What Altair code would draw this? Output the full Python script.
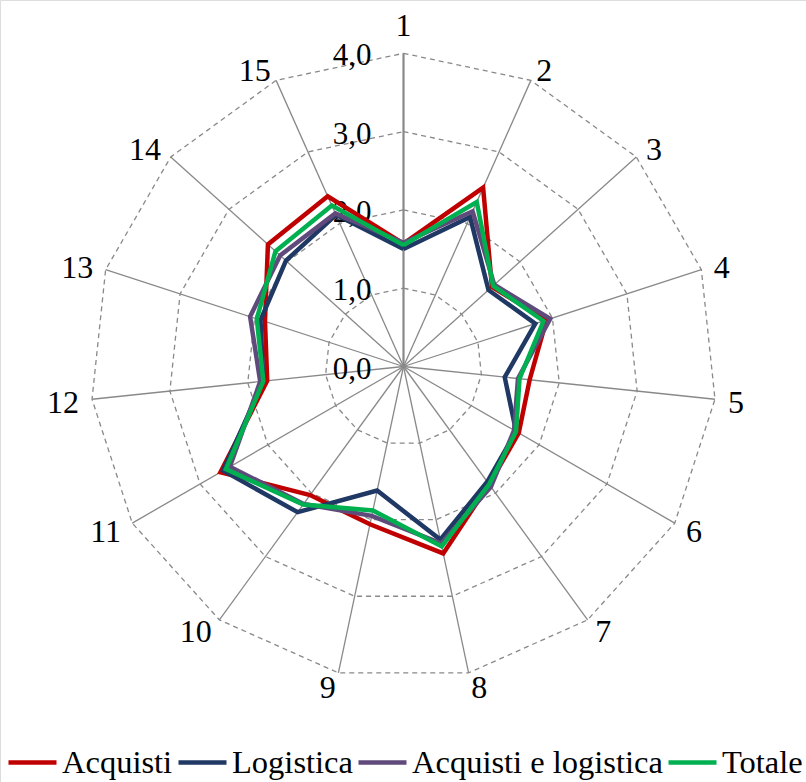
import altair as alt
import pandas as pd

# Radar chart: 15 items, four groups, scale 0-4
categories = [str(i) for i in range(1, 16)]
series_names = ["Acquisti", "Logistica", "Acquisti e logistica", "Totale"]
series_colors = ["#C00000", "#1F3864", "#604A7B", "#00B050"]

acquisti = [1.57, 2.50, 1.52, 1.92, 1.62, 1.70, 1.86, 2.44, 2.06, 2.03, 2.70, 1.75, 1.86, 2.33, 2.38]
logistica = [1.50, 2.09, 1.46, 1.77, 1.30, 1.66, 1.82, 2.26, 1.62, 2.30, 2.66, 1.80, 1.92, 2.02, 2.12]
acquisti_logistica = [1.58, 2.17, 1.56, 1.97, 1.47, 1.63, 1.90, 2.31, 1.95, 2.17, 2.56, 1.84, 2.06, 2.12, 2.14]
totale = [1.55, 2.30, 1.54, 1.88, 1.49, 1.66, 1.86, 2.35, 1.88, 2.18, 2.62, 1.80, 1.97, 2.20, 2.25]

grid_levels = [1, 2, 3, 4]
tick_values = [0, 1, 2, 3, 4]
tick_labels = ["0,0", "1,0", "2,0", "3,0", "4,0"]
r_max = 4

n = len(categories)
FONT = "Liberation Serif"
GRAY = "#898989"

# long table for the series, each polygon closed on its first item
rows = []
for name, vals in zip(series_names, [acquisti, logistica, acquisti_logistica, totale]):
    for i, v in enumerate(vals + vals[:1]):
        rows.append({"serie": name, "pos": i, "valore": v})
df_series = pd.DataFrame(rows)

df_grid = pd.DataFrame(
    [{"livello": lv, "pos": i} for lv in grid_levels for i in range(n + 1)]
)
df_cat = pd.DataFrame({"cat": categories, "pos": list(range(n))})
df_ticks = pd.DataFrame({"valore": tick_values, "testo": tick_labels})

# pixel geometry of the plot: centre and unit length
W, H = 806, 782
cx, cy, unit = 403.5, 366.5, 78.3
x_dom = [-cx / unit, (W - cx) / unit]
y_dom = [-(H - cy) / unit, cy / unit]
xs = alt.Scale(domain=x_dom, nice=False, zero=False)
ys = alt.Scale(domain=y_dom, nice=False, zero=False)

theta = f"datum.pos * 2 * PI / {n}"

spokes = (
    alt.Chart(df_cat)
    .transform_calculate(
        x0="0", y0="0",
        x1=f"{r_max} * sin({theta})",
        y1=f"{r_max} * cos({theta})",
        w=f"datum.pos == 0 ? 2.2 : 1.3",
    )
    .mark_rule(color=GRAY)
    .encode(
        x=alt.X("x0:Q", scale=xs, axis=None),
        y=alt.Y("y0:Q", scale=ys, axis=None),
        x2="x1:Q",
        y2="y1:Q",
        strokeWidth=alt.StrokeWidth("w:Q", scale=None, legend=None),
    )
)

grid = (
    alt.Chart(df_grid)
    .transform_calculate(
        gx=f"datum.livello * sin({theta})",
        gy=f"datum.livello * cos({theta})",
    )
    .mark_line(color=GRAY, strokeWidth=1.3, strokeDash=[5, 4])
    .encode(
        x=alt.X("gx:Q", scale=xs, axis=None),
        y=alt.Y("gy:Q", scale=ys, axis=None),
        detail="livello:N",
        order="pos:Q",
    )
)

ticks = (
    alt.Chart(df_ticks)
    .mark_text(font=FONT, fontSize=31, align="right", baseline="middle", dx=-32, dy=3, color="black")
    .encode(
        x=alt.X(datum=0, scale=xs, axis=None),
        y=alt.Y("valore:Q", scale=ys, axis=None),
        text="testo:N",
    )
)

label_r = r_max + 13 / unit
cat_base = alt.Chart(df_cat).transform_calculate(
    lx=f"{label_r} * sin({theta})",
    ly=f"{label_r} * cos({theta})",
)
cat_enc = dict(
    x=alt.X("lx:Q", scale=xs, axis=None),
    y=alt.Y("ly:Q", scale=ys, axis=None),
    text="cat:N",
)
cat_top = cat_base.transform_filter("datum.pos == 0").mark_text(
    font=FONT, fontSize=32, align="center", baseline="bottom", dy=3, color="black"
).encode(**cat_enc)
cat_right = cat_base.transform_filter(f"datum.pos > 0 && datum.pos < {n} / 2").mark_text(
    font=FONT, fontSize=32, align="left", baseline="middle", dy=2, color="black"
).encode(**cat_enc)
cat_left = cat_base.transform_filter(f"datum.pos > {n} / 2").mark_text(
    font=FONT, fontSize=32, align="right", baseline="middle", dy=2, color="black"
).encode(**cat_enc)

lines = (
    alt.Chart(df_series)
    .transform_calculate(
        sx=f"datum.valore * sin({theta})",
        sy=f"datum.valore * cos({theta})",
    )
    .mark_line(strokeWidth=4.5, strokeJoin="miter")
    .encode(
        x=alt.X("sx:Q", scale=xs, axis=None),
        y=alt.Y("sy:Q", scale=ys, axis=None),
        color=alt.Color(
            "serie:N",
            scale=alt.Scale(domain=series_names, range=series_colors),
            sort=series_names,
            legend=alt.Legend(
                title=None,
                orient="none",
                legendX=6,
                legendY=736,
                direction="horizontal",
                columns=4,
                symbolType="stroke",
                symbolSize=2304,
                symbolStrokeWidth=4.5,
                labelFont=FONT,
                labelFontSize=32.5,
                labelColor="black",
                labelOffset=3,
                columnPadding=-4,
                padding=0,
                labelLimit=0,
            ),
        ),
        order="pos:Q",
    )
)

chart = (
    alt.layer(spokes, grid, ticks, cat_top, cat_right, cat_left, lines)
    .properties(width=W, height=H, autosize=alt.AutoSizeParams(type="none"), padding=0)
    .configure_view(stroke=None)
    .configure(background="white")
)

chart.save("out.html", embed_options={"renderer": "svg", "actions": False})
